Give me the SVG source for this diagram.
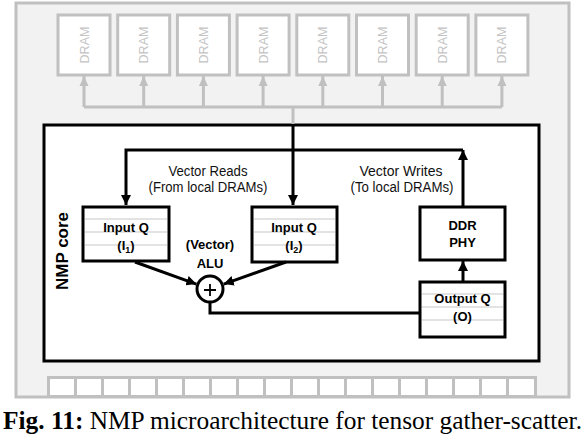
<svg xmlns="http://www.w3.org/2000/svg" width="584" height="434" viewBox="0 0 584 434">
<style>
.chip{fill:#f2f2f2;stroke:#c0c0c0;stroke-width:3}
.dram{fill:#ffffff;stroke:#c0c0c0;stroke-width:3}
.dtxt{font-family:"Liberation Sans",Arial,sans-serif;font-size:12.5px;fill:#c4c4c4;text-anchor:middle}
.core{fill:#ffffff;stroke:#000;stroke-width:3}
.box{fill:#ffffff;stroke:#000;stroke-width:3}
.stripe{stroke:#e3e3e3;stroke-width:2}
.b{font-family:"Liberation Sans",Arial,sans-serif;font-weight:bold;font-size:13px;fill:#000;text-anchor:middle}
.r{font-family:"Liberation Sans",Arial,sans-serif;font-size:14px;fill:#111;text-anchor:middle}
.gl{fill:none;stroke:#c0c0c0;stroke-width:3}
.bl{fill:none;stroke:#000;stroke-width:3}
.pad{fill:#ffffff}
</style>
<defs>
<marker id="ab" markerUnits="userSpaceOnUse" markerWidth="10" markerHeight="10" refX="10" refY="5" orient="auto">
<path d="M0,0 L10,5 L0,10 z" fill="#000"/>
</marker>
<marker id="ag" markerUnits="userSpaceOnUse" markerWidth="10" markerHeight="10" refX="10" refY="5" orient="auto">
<path d="M0,0.5 L10,5 L0,9.5 z" fill="#c0c0c0"/>
</marker>
</defs>

<g id="chip">
<rect class="chip" x="16" y="3" width="553" height="394"/>
</g>

<g id="pads">
<rect x="47" y="376" width="490" height="21" fill="#c0c0c0"/>
<rect class="pad" x="50" y="379" width="24" height="16"/>
<rect class="pad" x="77" y="379" width="24" height="16"/>
<rect class="pad" x="104" y="379" width="24" height="16"/>
<rect class="pad" x="131" y="379" width="24" height="16"/>
<rect class="pad" x="158" y="379" width="24" height="16"/>
<rect class="pad" x="185" y="379" width="24" height="16"/>
<rect class="pad" x="212" y="379" width="24" height="16"/>
<rect class="pad" x="239" y="379" width="24" height="16"/>
<rect class="pad" x="266" y="379" width="24" height="16"/>
<rect class="pad" x="293" y="379" width="24" height="16"/>
<rect class="pad" x="320" y="379" width="24" height="16"/>
<rect class="pad" x="347" y="379" width="24" height="16"/>
<rect class="pad" x="374" y="379" width="24" height="16"/>
<rect class="pad" x="401" y="379" width="24" height="16"/>
<rect class="pad" x="428" y="379" width="24" height="16"/>
<rect class="pad" x="455" y="379" width="24" height="16"/>
<rect class="pad" x="482" y="379" width="24" height="16"/>
<rect class="pad" x="509" y="379" width="25" height="16"/>
</g>

<g id="dram1"><rect class="dram" x="58" y="15" width="52" height="60"/><text class="dtxt" transform="translate(88.5,45) rotate(-90)">DRAM</text></g>
<g id="dram2"><rect class="dram" x="117.7" y="15" width="52" height="60"/><text class="dtxt" transform="translate(148.2,45) rotate(-90)">DRAM</text></g>
<g id="dram3"><rect class="dram" x="177.4" y="15" width="52" height="60"/><text class="dtxt" transform="translate(207.9,45) rotate(-90)">DRAM</text></g>
<g id="dram4"><rect class="dram" x="237.1" y="15" width="52" height="60"/><text class="dtxt" transform="translate(267.6,45) rotate(-90)">DRAM</text></g>
<g id="dram5"><rect class="dram" x="296.8" y="15" width="52" height="60"/><text class="dtxt" transform="translate(327.3,45) rotate(-90)">DRAM</text></g>
<g id="dram6"><rect class="dram" x="356.5" y="15" width="52" height="60"/><text class="dtxt" transform="translate(387,45) rotate(-90)">DRAM</text></g>
<g id="dram7"><rect class="dram" x="416.2" y="15" width="52" height="60"/><text class="dtxt" transform="translate(446.7,45) rotate(-90)">DRAM</text></g>
<g id="dram8"><rect class="dram" x="475.9" y="15" width="52" height="60"/><text class="dtxt" transform="translate(506.4,45) rotate(-90)">DRAM</text></g>

<g id="nmp-core">
<rect class="core" x="44" y="125" width="495" height="236"/>
<text class="b" style="font-size:17px" transform="translate(68,251) rotate(-90)">NMP core</text>
</g>

<g id="inputq1">
<rect class="box" x="83" y="207" width="86" height="54"/>
<line class="stripe" x1="85" y1="219" x2="167" y2="219"/>
<line class="stripe" x1="85" y1="232" x2="167" y2="232"/>
<line class="stripe" x1="85" y1="245" x2="167" y2="245"/>
<text class="b" x="126" y="232">Input Q</text>
<text class="b" x="126" y="250">(I<tspan font-size="9" dy="3">1</tspan><tspan dy="-3">)</tspan></text>
</g>

<g id="inputq2">
<rect class="box" x="252" y="207" width="85" height="55"/>
<line class="stripe" x1="254" y1="219" x2="335" y2="219"/>
<line class="stripe" x1="254" y1="232" x2="335" y2="232"/>
<line class="stripe" x1="254" y1="245" x2="335" y2="245"/>
<text class="b" x="294" y="232">Input Q</text>
<text class="b" x="294" y="250">(I<tspan font-size="9" dy="3">2</tspan><tspan dy="-3">)</tspan></text>
</g>

<g id="ddrphy">
<rect class="box" x="420" y="207" width="85" height="53"/>
<text class="b" x="462.5" y="230">DDR</text>
<text class="b" x="462.5" y="247">PHY</text>
</g>

<g id="outputq">
<rect class="box" x="420" y="282" width="85" height="55"/>
<line class="stripe" x1="422" y1="294" x2="503" y2="294"/>
<line class="stripe" x1="422" y1="307" x2="503" y2="307"/>
<line class="stripe" x1="422" y1="320" x2="503" y2="320"/>
<text class="b" x="462.5" y="303">Output Q</text>
<text class="b" x="462.5" y="321">(O)</text>
</g>

<g id="alu">
<circle cx="210" cy="289" r="13" fill="#fff" stroke="#000" stroke-width="3"/>
<path d="M204,290 H216 M210,284 V296" stroke="#000" stroke-width="1.8" fill="none"/>
<text class="b" x="210" y="249">(Vector)</text>
<text class="b" x="210" y="268">ALU</text>
</g>

<g id="connectors">
<path class="gl" d="M84,107 H502"/>
<path class="gl" d="M84,107 V76" marker-end="url(#ag)"/>
<path class="gl" d="M143.7,107 V76" marker-end="url(#ag)"/>
<path class="gl" d="M203.4,107 V76" marker-end="url(#ag)"/>
<path class="gl" d="M263.1,107 V76" marker-end="url(#ag)"/>
<path class="gl" d="M322.8,107 V76" marker-end="url(#ag)"/>
<path class="gl" d="M382.5,107 V76" marker-end="url(#ag)"/>
<path class="gl" d="M442.2,107 V76" marker-end="url(#ag)"/>
<path class="gl" d="M501.9,107 V76" marker-end="url(#ag)"/>
<path class="gl" d="M293,107 V124"/>
<path class="bl" d="M293,125 V205" marker-end="url(#ab)"/>
<path class="bl" d="M463,150 H126 V205" marker-end="url(#ab)"/>
<path class="bl" d="M463,207 V150" marker-end="url(#ab)"/>
<path class="bl" d="M463,282 V261" marker-end="url(#ab)"/>
<path class="bl" d="M135,262 L196.4,284.1" marker-end="url(#ab)"/>
<path class="bl" d="M286,262 L223.7,284.1" marker-end="url(#ab)"/>
<path class="bl" d="M210,302 V313 H419"/>
</g>

<g id="labels">
<text class="r" x="208" y="176" textLength="79" lengthAdjust="spacingAndGlyphs">Vector Reads</text>
<text class="r" x="208" y="192" textLength="119" lengthAdjust="spacingAndGlyphs">(From local DRAMs)</text>
<text class="r" x="401" y="176" textLength="83" lengthAdjust="spacingAndGlyphs">Vector Writes</text>
<text class="r" x="402" y="192" textLength="103" lengthAdjust="spacingAndGlyphs">(To local DRAMs)</text>
</g>

<text x="3" y="429" font-family="Liberation Serif,Times New Roman,serif" font-size="25.5" fill="#000" textLength="579" lengthAdjust="spacingAndGlyphs"><tspan font-weight="bold">Fig. 11:</tspan> NMP microarchitecture for tensor gather-scatter.</text>
</svg>
